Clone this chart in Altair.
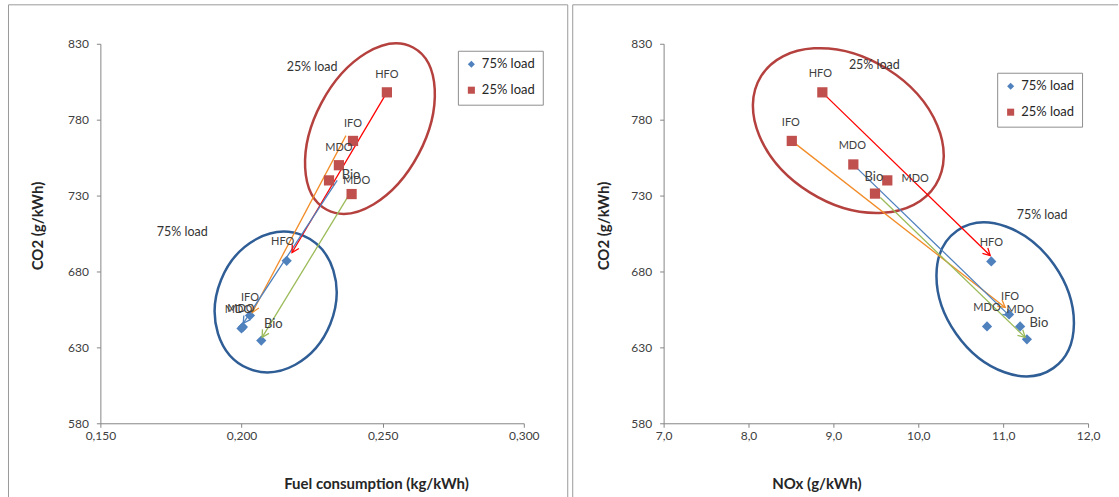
import math
import altair as alt
import pandas as pd

FONT = "Lato"
TXT = "#404040"
AXC = "#868686"

# ---------------- data ----------------
load_levels = ["75% load", "25% load"]
load_colors = ["#4F81BD", "#C0504D"]
load_shapes = ["diamond", "square"]

y_domain = [580, 830]
y_ticks = [580, 630, 680, 730, 780, 830]

# Left panel: fuel consumption (kg/kWh) vs CO2 (g/kWh)
L_fuel = ["HFO", "IFO", "MDO", "MDO", "Bio", "HFO", "IFO", "MDO", "Bio", "MDO"]
L_load = ["75% load"] * 5 + ["25% load"] * 5
L_fc = [0.216, 0.203, 0.200, 0.2005, 0.207, 0.2515, 0.2395, 0.2345, 0.231, 0.239]
L_co2 = [687.0, 651.0, 642.5, 643.5, 634.5, 798.0, 766.0, 750.0, 740.0, 731.0]
L_lab_dx = [-4, 0, -3, -2, 12, 0, 0, 0, 22, 5]
L_lab_dy = [-19, -18, -18, -18, -17, -17, -17, -17, -5, -13]
L_x_domain = [0.150, 0.300]
L_x_ticks = [0.150, 0.200, 0.250, 0.300]

# Right panel: NOx (g/kWh) vs CO2 (g/kWh)
R_fuel = ["HFO", "IFO", "MDO", "MDO", "Bio", "HFO", "IFO", "MDO", "MDO", "Bio"]
R_load = ["75% load"] * 5 + ["25% load"] * 5
R_nox = [10.86, 11.07, 10.81, 11.20, 11.28, 8.87, 8.51, 9.235, 9.635, 9.49]
R_co2 = [686.6, 651.7, 643.8, 643.8, 635.3, 798.0, 766.0, 750.5, 740.0, 731.3]
R_lab_dx = [0, 1, 0, 0, 12, -2, -1, -1, 28, -1]
R_lab_dy = [-18, -17, -18, -16, -16, -18, -18, -18, -1, -17]
R_x_domain = [7.0, 12.0]
R_x_ticks = [7, 8, 9, 10, 11, 12]

# arrows (25% load -> 75% load)
arrow_colors = ["#F28C28", "#FF0000", "#4F81BD", "#9BBB59"]
L_arr_x1 = [0.2370, 0.2515, 0.2339, 0.2377]
L_arr_y1 = [769.5, 798.0, 740.0, 729.3]
L_arr_x2 = [0.2038, 0.2179, 0.2006, 0.2073]
L_arr_y2 = [653.0, 692.5, 645.8, 636.6]
R_arr_x1 = [8.506, 8.871, 9.235, 9.553]
R_arr_y1 = [766.2, 797.8, 750.4, 728.7]
R_arr_x2 = [11.024, 10.847, 11.082, 11.259]
R_arr_y2 = [656.3, 690.5, 650.4, 636.6]

# ellipses around the groups: centre, semi-axes (px), rotation (deg), colour
ell_colors = ["#B5413E", "#2F5D95"]
L_ell_x = [0.2455, 0.2121]
L_ell_y = [774.1, 659.9]
L_ell_a = [92, 72]
L_ell_b = [55, 59]
L_ell_rot = [298, 292]
R_ell_x = [9.176, 11.024]
R_ell_y = [772.8, 661.6]
R_ell_a = [103, 84]
R_ell_b = [73, 60]
R_ell_rot = [32, 55]

# free annotations
note_text = ["25% load", "75% load"]
L_note_x = [0.225, 0.179]
L_note_y = [814.9, 706.3]
R_note_x = [9.482, 11.459]
R_note_y = [816.2, 717.5]

H = 380


def ellipse_path(ratio):
    return (f"M -1 0 A 1 {ratio:.4f} 0 0 1 1 0 "
            f"A 1 {ratio:.4f} 0 0 1 -1 0 Z")


ARROW_PATH = "M -1 -0.55 L 0 0 L -1 0.55"


def panel(W, xdom, xticks, xfmt, xtitle, title_x, ytitle_x,
          fuel, load, xv, yv, ldx, ldy,
          ax1, ay1, ax2, ay2,
          ex, ey, ea, eb, erot,
          nx, ny, legend_xy, frame):
    kx = (xdom[1] - xdom[0]) / W
    ky = (y_domain[1] - y_domain[0]) / H

    pts = pd.DataFrame({"fuel": fuel, "load": load, "x": xv, "y": yv})
    pts["lx"] = [x + d * kx for x, d in zip(xv, ldx)]
    pts["ly"] = [y - d * ky for y, d in zip(yv, ldy)]

    arr = pd.DataFrame({"x": ax1, "y": ay1, "x2": ax2, "y2": ay2, "c": arrow_colors})
    arr["ang"] = [
        math.degrees(math.atan2(-(b2 - b1) / ky, (a2 - a1) / kx)) % 360
        for a1, b1, a2, b2 in zip(ax1, ay1, ax2, ay2)
    ]

    notes = pd.DataFrame({"t": note_text, "x": nx, "y": ny})

    xs = alt.Scale(domain=xdom, nice=False, zero=False)
    ys = alt.Scale(domain=y_domain, nice=False, zero=False)

    x_axis = alt.Axis(
        values=xticks,
        labelExpr=f"replace(format(datum.value, '{xfmt}'), '.', ',')",
        title=xtitle, titleX=title_x, titleY=60, titleBaseline="middle",
        titleAlign="center", titleFontSize=15, titleFontWeight="bold",
        titleFont=FONT, titleColor="#262626",
        labelFont=FONT, labelFontSize=12, labelColor=TXT, labelPadding=3,
        tickSize=4, tickColor=AXC, domainColor=AXC, grid=False,
        labelFlush=False, labelOverlap=False,
    )
    y_axis = alt.Axis(
        values=y_ticks, format="d",
        title="CO2 (g/kWh)", titleX=ytitle_x, titleY=182, titleAngle=270,
        titleBaseline="middle", titleAlign="center", titleFontSize=15,
        titleFontWeight="bold", titleFont=FONT, titleColor="#262626",
        labelFont=FONT, labelFontSize=12, labelColor=TXT, labelPadding=8,
        tickSize=4, tickColor=AXC, domainColor=AXC, grid=False,
        labelFlush=False, labelOverlap=False,
    )

    def X(field):
        return alt.X(field, type="quantitative", scale=xs, axis=x_axis)

    def Y(field):
        return alt.Y(field, type="quantitative", scale=ys, axis=y_axis)

    one = pd.DataFrame({"a": [0]})
    fx1, fx2, fy1, fy2, right_edge = frame
    layers = [
        alt.Chart(one).mark_rule(color="#9a9a9a", strokeWidth=1).encode(
            x=alt.value(fx1), x2=alt.value(fx2), y=alt.value(fy1)),
        alt.Chart(one).mark_rule(color="#9a9a9a", strokeWidth=1).encode(
            x=alt.value(fx1), y=alt.value(fy1), y2=alt.value(fy2)),
    ]
    if right_edge:
        layers.append(
            alt.Chart(one).mark_rule(color="#9a9a9a", strokeWidth=1).encode(
                x=alt.value(fx2), y=alt.value(fy1), y2=alt.value(fy2)))

    lx, ly = legend_xy
    layers.append(alt.Chart(one).mark_rect(fill="#c4c4c4").encode(
        x=alt.value(lx + 3), x2=alt.value(lx + 82),
        y=alt.value(ly + 3), y2=alt.value(ly + 53)))

    # ellipses (one layer each)
    for i in range(len(ex)):
        e = pd.DataFrame({"x": [ex[i]], "y": [ey[i]]})
        layers.append(
            alt.Chart(e).mark_point(
                shape=ellipse_path(eb[i] / ea[i]), size=4 * ea[i] * ea[i],
                angle=erot[i], filled=False, opacity=1, strokeWidth=2.5,
                stroke=ell_colors[i],
            ).encode(x=X("x"), y=Y("y"))
        )

    # arrow shafts
    layers.append(
        alt.Chart(arr).mark_rule(strokeWidth=1.3).encode(
            x=X("x"), y=Y("y"), x2="x2:Q", y2="y2:Q",
            stroke=alt.Stroke("c:N", scale=None),
        )
    )

    leg = alt.Legend(
        title=None, orient="none", legendX=lx, legendY=ly,
        fillColor="white", strokeColor="#8e8e8e", padding=7, cornerRadius=0,
        symbolSize=50, symbolStrokeWidth=0, labelFont=FONT, labelFontSize=13,
        labelColor="#262626", labelOffset=4, rowPadding=12,
    )

    # data points
    layers.append(
        alt.Chart(pts).mark_point(filled=True, opacity=1, size=105).encode(
            x=X("x"), y=Y("y"),
            color=alt.Color("load:N", scale=alt.Scale(domain=load_levels, range=load_colors), legend=leg),
            shape=alt.Shape("load:N", scale=alt.Scale(domain=load_levels, range=load_shapes), legend=leg),
        )
    )

    # arrow heads
    layers.append(
        alt.Chart(arr).mark_point(
            shape=ARROW_PATH, filled=False, opacity=1, strokeWidth=1.3, size=196
        ).encode(
            x=X("x2"), y=Y("y2"),
            angle=alt.Angle("ang:Q", scale=None),
            stroke=alt.Stroke("c:N", scale=None),
        )
    )

    # point labels
    layers.append(
        alt.Chart(pts).transform_filter("datum.fuel != 'Bio'").mark_text(
            font=FONT, fontSize=11, color=TXT, align="center", baseline="middle"
        ).encode(x=X("lx"), y=Y("ly"), text="fuel:N")
    )
    layers.append(
        alt.Chart(pts).transform_filter("datum.fuel == 'Bio'").mark_text(
            font=FONT, fontSize=13, color=TXT, align="center", baseline="middle"
        ).encode(x=X("lx"), y=Y("ly"), text="fuel:N")
    )

    # group annotations
    layers.append(
        alt.Chart(notes).mark_text(
            font=FONT, fontSize=12.5, color="#333333", align="center", baseline="middle"
        ).encode(x=X("x"), y=Y("y"), text="t:N")
    )

    return alt.layer(*layers).properties(width=W, height=H)


left = panel(
    424, L_x_domain, L_x_ticks, ".3f", "Fuel consumption (kg/kWh)", 276, -63,
    L_fuel, L_load, L_fc, L_co2, L_lab_dx, L_lab_dy,
    L_arr_x1, L_arr_y1, L_arr_x2, L_arr_y2,
    L_ell_x, L_ell_y, L_ell_a, L_ell_b, L_ell_rot,
    L_note_x, L_note_y, (358, 7), (-92, 468, -39, 454, True),
)
right = panel(
    425, R_x_domain, R_x_ticks, ".1f", "NOx (g/kWh)", 153, -60,
    R_fuel, R_load, R_nox, R_co2, R_lab_dx, R_lab_dy,
    R_arr_x1, R_arr_y1, R_arr_x2, R_arr_y2,
    R_ell_x, R_ell_y, R_ell_a, R_ell_b, R_ell_rot,
    R_note_x, R_note_y, (334, 29), (-91, 455, -39, 454, False),
)

chart = (
    alt.hconcat(left, right, spacing=3)
    .resolve_scale(color="independent", shape="independent")
    .resolve_legend(color="independent", shape="independent")
    .properties(padding={"left": 7.5, "top": 3.5, "right": 0, "bottom": 0}, background="white")
    .configure_view(stroke=None)
)

chart.save("out.html", embed_options={"renderer": "svg", "actions": False})
